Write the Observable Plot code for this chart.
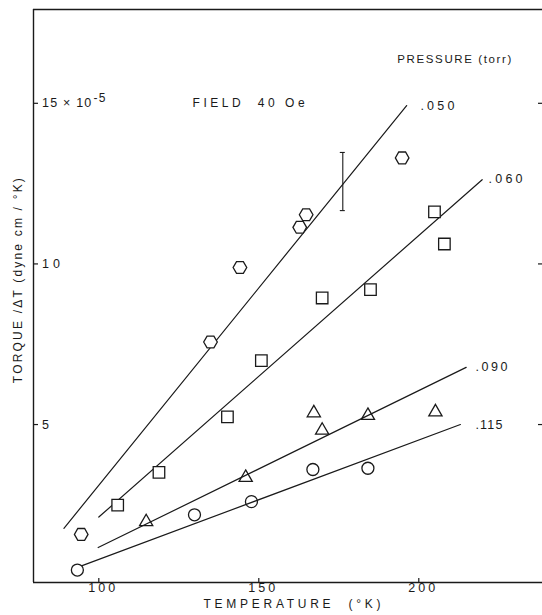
<!DOCTYPE html>
<html><head><meta charset="utf-8">
<script src="https://cdn.jsdelivr.net/npm/d3@7"></script>
<script src="https://cdn.jsdelivr.net/npm/@observablehq/plot@0.6"></script>
<style>body{margin:0;background:#fff} svg{display:block}</style>
</head><body><div id="chart"></div>
<script>
// ---- data ----
const xTicks = [100, 150, 200];
const yTicks = [5, 10, 15];
const yTickLabels = ["5", "10", "15 × 10"];
const yTickSup = ["", "", "-5"];
const xLabel = "TEMPERATURE  (°K)";
const yLabel = "TORQUE /ΔT (dyne cm / °K)";
const fieldText = "FIELD  40 Oe";
const legendTitle = "PRESSURE (torr)";

const pressures = [".050", ".060", ".090", ".115"];

// .050 torr (hexagons)
const temp050 = [94.5, 134.9, 144.1, 162.8, 164.8, 194.8];
const torque050 = [1.58, 7.57, 9.89, 11.14, 11.53, 13.30];
// .060 torr (squares)
const temp060 = [105.9, 118.8, 140.2, 150.8, 169.8, 184.9, 204.9, 208.0];
const torque060 = [2.49, 3.51, 5.24, 6.99, 8.94, 9.20, 11.62, 10.62];
// .090 torr (triangles)
const temp090 = [114.8, 145.9, 167.2, 169.8, 184.1, 205.2];
const torque090 = [1.97, 3.35, 5.36, 4.82, 5.28, 5.39];
// .115 torr (circles)
const temp115 = [93.3, 129.9, 147.7, 166.9, 184.1];
const torque115 = [0.47, 2.19, 2.60, 3.60, 3.64];

// fitted straight lines (end points)
const fitTemp050 = [89.1, 196.2], fitTorque050 = [1.77, 14.93];
const fitTemp060 = [100.0, 219.8], fitTorque060 = [2.12, 12.62];
const fitTemp090 = [99.8, 214.8], fitTorque090 = [1.17, 6.78];
const fitTemp115 = [94.8, 213.0], fitTorque115 = [0.61, 5.00];

// curve labels
const labelTemp = [200.5, 221.8, 217.7, 217.7];
const labelTorque = [14.93, 12.65, 6.78, 5.00];

// representative error bar
const errTemp = [176.25];
const errLow = [11.66];
const errHigh = [13.47];

// annotation anchors (data units)
const fieldAt = [129.3, 15.0];
const legendAt = [193.3, 16.38];
const yLabelAt = [74.9, 9.48];

// axis extents
const xDomain = [79.59, 238.66];
const yDomain = [0.083, 17.92];

// ---- build tables ----
const pts = (t, v) => t.map((d, i) => ({t: d, v: v[i]}));
const fit = (t, v, p) => t.map((d, i) => ({t: d, v: v[i], p}));
const fits = [
  ...fit(fitTemp050, fitTorque050, ".050"),
  ...fit(fitTemp060, fitTorque060, ".060"),
  ...fit(fitTemp090, fitTorque090, ".090"),
  ...fit(fitTemp115, fitTorque115, ".115")
];
const labels = pressures.map((p, i) => ({t: labelTemp[i], v: labelTorque[i], p}));
const errs = errTemp.map((t, i) => ({t, lo: errLow[i], hi: errHigh[i]}));

const ink = "#1a1a1a";
const font = "'Liberation Sans', Arial, sans-serif";

const chart = Plot.plot({
  width: 542,
  height: 615,
  marginLeft: 33,
  marginRight: 0,
  marginTop: 9,
  marginBottom: 33,
  x: {domain: xDomain, axis: null},
  y: {domain: yDomain, axis: null},
  style: {fontFamily: font, fontSize: "11.5px", color: ink, background: "#fff"},
  marks: [
    // frame: top, left, bottom
    Plot.ruleY([yDomain[0], yDomain[1]], {stroke: ink, strokeWidth: 1.4}),
    Plot.ruleX([xDomain[0]], {stroke: ink, strokeWidth: 1.4}),
    // x ticks (inward from bottom)
    Plot.ruleX(xTicks, {x: d => d, y1: yDomain[0], y2: yDomain[0], insetTop: -4, stroke: ink, strokeWidth: 1.2}),
    // y ticks left and right (inward)
    Plot.ruleY(yTicks, {y: d => d, x1: xDomain[0], x2: xDomain[0], insetRight: -5, stroke: ink, strokeWidth: 1.2}),
    Plot.ruleY(yTicks, {y: d => d, x1: xDomain[1], x2: xDomain[1], insetLeft: -4, stroke: ink, strokeWidth: 1.2}),
    // tick labels
    Plot.text(xTicks, {x: d => d, frameAnchor: "bottom", dx: 3, dy: 9, text: d => String(d), fill: ink, fontSize: 12.5}),
    Plot.text(yTicks, {y: d => d, frameAnchor: "left", dx: 8.5, textAnchor: "start", text: (d, i) => yTickLabels[i], fill: ink, fontSize: 12.5}),
    // axis titles
    Plot.text([xLabel], {frameAnchor: "bottom", dx: 4, dy: 25, text: d => d, fill: ink, fontSize: 12}),
    Plot.text([yLabel], {x: yLabelAt[0], y: yLabelAt[1], rotate: -90, text: d => d, fill: ink, fontSize: 12}),
    // annotations
    Plot.text([fieldText], {x: fieldAt[0], y: fieldAt[1], textAnchor: "start", text: d => d, fill: ink, fontSize: 12}),
    Plot.text([legendTitle], {x: legendAt[0], y: legendAt[1], textAnchor: "start", text: d => d, fill: ink, fontSize: 11.5}),
    // fitted lines
    Plot.line(fits, {x: "t", y: "v", z: "p", stroke: ink, strokeWidth: 1.2}),
    // curve labels
    Plot.text(labels, {x: "t", y: "v", text: "p", textAnchor: "start", fill: ink, fontSize: 12.5}),
    // error bar
    Plot.ruleX(errs, {x: "t", y1: "lo", y2: "hi", stroke: ink, strokeWidth: 1.1}),
    Plot.ruleY(errs, {y: "lo", x1: "t", x2: "t", insetLeft: -2.5, insetRight: -2.5, stroke: ink, strokeWidth: 1.1}),
    Plot.ruleY(errs, {y: "hi", x1: "t", x2: "t", insetLeft: -2.5, insetRight: -2.5, stroke: ink, strokeWidth: 1.1}),
    // data points
    Plot.dot(pts(temp050, torque050), {x: "t", y: "v", symbol: "hexagon", r: 5.9, rotate: 90, stroke: ink, strokeWidth: 1.3, fill: "white"}),
    Plot.dot(pts(temp060, torque060), {x: "t", y: "v", symbol: "square", r: 6.5, stroke: ink, strokeWidth: 1.3, fill: "white"}),
    Plot.dot(pts(temp090, torque090), {x: "t", y: "v", symbol: "triangle", r: 4.9, stroke: ink, strokeWidth: 1.3, fill: "none"}),
    Plot.dot(pts(temp115, torque115), {x: "t", y: "v", symbol: "circle", r: 6, stroke: ink, strokeWidth: 1.3, fill: "none"})
  ]
});

// stencil-like lettering: stretch each text to the width measured in the figure
const widths = new Map([
  [xLabel, 177], [yLabel, 205], [fieldText, 112], [legendTitle, 114],
  ["100", 27], ["150", 27], ["200", 27], ["10", 18], ["5", 0],
  [".050", 34], [".060", 34], [".090", 32], [".115", 27]
]);
d3.select(chart).selectAll("text").each(function() {
  const t = this.textContent;
  this.setAttribute("xml:space", "preserve");
  this.style.whiteSpace = "pre";
  const w = widths.get(t);
  if (w) {
    this.setAttribute("textLength", w);
    this.setAttribute("lengthAdjust", "spacing");
  }
  const i = yTickLabels.indexOf(t);
  if (i >= 0 && yTickSup[i]) {
    this.style.letterSpacing = "1.2px";
    d3.select(this).append("tspan").attr("dy", "-0.45em").attr("dx", 1).style("font-size", "12px").text(yTickSup[i]);
  }
});
document.getElementById("chart").appendChild(chart);
</script>
</body></html>
